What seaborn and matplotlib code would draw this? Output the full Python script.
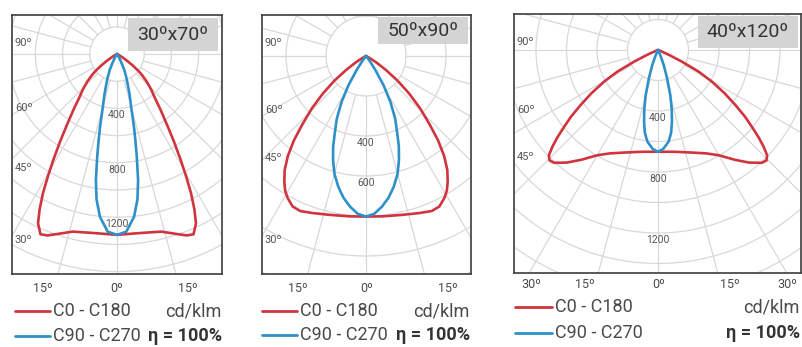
import numpy as np
import pandas as pd
import matplotlib.pyplot as plt
import seaborn as sns
from matplotlib.lines import Line2D
from matplotlib.patches import Circle, Rectangle

sns.set_theme(style="white")
plt.rcParams['font.family'] = ['Roboto', 'DejaVu Sans']

# --- photometric data (cd/klm vs gamma angle) ---
# 30x70
p1_red_ang = [0, 7, 14, 18, 21, 23, 25, 26.5, 28, 29.5, 31, 33, 35, 38, 41, 44, 47, 50, 52, 54, 56, 58, 61, 65, 90]
p1_red_cd = [1330, 1327, 1346, 1390, 1429, 1440, 1374, 1275, 1160, 1030, 910, 770, 650, 520, 420, 360, 300,
             240, 193, 140, 90, 50, 20, 0, 0]
p1_blue_ang = [0, 3, 6, 8, 9.5, 11, 12, 13, 14, 15, 17, 19, 21.5, 24.5, 27, 30, 33, 90]
p1_blue_cd = [1330, 1308, 1203, 1080, 940, 760, 650, 560, 470, 400, 320, 250, 190, 130, 70, 30, 0, 0]
# 50x90
p2_red_ang = [0, 6, 13, 19, 23, 26, 29, 31, 33, 35.5, 38, 40.5, 43, 46, 49, 52, 55, 58, 61, 65, 90]
p2_red_cd = [803, 806, 815, 830, 842, 837, 810, 785, 750, 700, 635, 555, 465, 375, 285, 200, 120, 60, 20, 0, 0]
p2_blue_ang = [0, 3, 6, 9, 12, 15, 17.6, 20, 22, 25, 28, 31, 34, 37, 42, 90]
p2_blue_cd = [803, 790, 758, 718, 668, 610, 545, 480, 417, 345, 260, 170, 80, 25, 0, 0]
# 40x120
p3_red_ang = [0, 10, 18, 25, 30, 35, 39, 42.6, 44.5, 46, 47.5, 49, 50.5, 52.5, 54.6, 57, 59.6, 62, 64, 66,
              68, 72, 90]
p3_red_cd = [667, 678, 707, 748, 797, 879, 950, 1005, 1015, 995, 940, 875, 805, 720, 622, 520, 410, 300, 175,
             80, 25, 0, 0]
p3_blue_ang = [0, 3, 6.6, 9, 11, 13, 15.3, 18, 20.8, 23, 26, 32, 90]
p3_blue_cd = [667, 650, 605, 550, 479, 400, 306, 190, 105, 50, 15, 0, 0]

titles = ['30ºx70º', '50ºx90º', '40ºx120º']
ring_labels = [[400, 800, 1200], [400, 600], [400, 800, 1200]]
left_labels = [['90º', '60º', '45º', '30º'], ['90º', '60º', '45º', '30º'], ['90º', '60º', '45º']]
bottom_labels = [['15º', '0º', '15º'], ['15º', '0º', '15º'], ['30º', '15º', '0º', '15º', '30º']]
series_names = ['C0 - C180', 'C90 - C270']

RED = '#d0343f'
BLUE = '#2e90c9'
GRID = '#d8d8d8'
TXT = '#4a4a4a'
W, H = 803, 347

# layout in pixels: box, polar centre, px per cd, title box, label spots
panels = [
    dict(box=(12, 15, 222, 274), c=(117, 54), s=0.136, tbox=(128, 18, 218, 51),
         left_y=[43, 108, 168, 240], left_x=15, bot_x=[43, 117, 188], bot_y=289,
         leg_x=(15, 50, 53), leg_y=(311, 336), right_x=222,
         red=(p1_red_ang, p1_red_cd), blue=(p1_blue_ang, p1_blue_cd)),
    dict(box=(262, 15, 471, 274), c=(366, 56), s=0.2, tbox=(378, 17, 468, 44),
         left_y=[43, 110, 158, 240], left_x=265, bot_x=[298, 367, 448], bot_y=288,
         leg_x=(262, 297, 300), leg_y=(311, 335), right_x=470,
         red=(p2_red_ang, p2_red_cd), blue=(p2_blue_ang, p2_blue_cd)),
    dict(box=(514, 14, 801, 273), c=(658, 50), s=0.1525, tbox=(698, 16, 798, 48),
         left_y=[42, 110, 157], left_x=517, bot_x=[531, 585, 659, 730, 787], bot_y=285,
         leg_x=(515, 552, 555), leg_y=(307, 333), right_x=800,
         red=(p3_red_ang, p3_red_cd), blue=(p3_blue_ang, p3_blue_cd)),
]


def fx(x):
    return x / W


def fy(y):
    return 1 - y / H


def polar_curve(angles, cd):
    # mirror the half curve so both C-planes halves are drawn, 0 deg pointing down
    th = np.radians(np.asarray(angles, dtype=float))
    r = np.asarray(cd, dtype=float)
    xr = r * np.sin(th)
    yr = -r * np.cos(th)
    x = np.concatenate([-xr[::-1], xr[1:]])
    y = np.concatenate([yr[::-1], yr[1:]])
    return pd.DataFrame({'x': x, 'y': y})


fig = plt.figure(figsize=(8.03, 3.47), dpi=100)

for i, p in enumerate(panels):
    x0, y0, x1, y1 = p['box']
    cx, cy = p['c']
    s = p['s']
    ax = fig.add_axes([fx(x0), fy(y1), (x1 - x0) / W, (y1 - y0) / H])
    ax.set_xlim((x0 - cx) / s, (x1 - cx) / s)
    ax.set_ylim(-(y1 - cy) / s, (cy - y0) / s)
    ax.set_xticks([])
    ax.set_yticks([])
    for sp in ax.spines.values():
        sp.set_color('#3c3c3c')
        sp.set_linewidth(1.2)

    # polar grid: rings every 200 cd, spokes every 15 deg
    rmax = 2200
    for r in range(200, rmax + 1, 200):
        ax.add_patch(Circle((0, 0), r, fill=False, ec=GRID, lw=0.9, zorder=1))
    for a in np.radians(np.arange(0, 360, 15)):
        ax.plot([200 * np.sin(a), rmax * np.sin(a)], [-200 * np.cos(a), -rmax * np.cos(a)],
                color=GRID, lw=0.9, zorder=1)

    for (ang, cd), col in [(p['red'], RED), (p['blue'], BLUE)]:
        df = polar_curve(ang, cd)
        sns.lineplot(data=df, x='x', y='y', sort=False, estimator=None,
                     color=col, lw=1.9, ax=ax, zorder=3)
    ax.set_xlabel('')
    ax.set_ylabel('')

    for v in ring_labels[i]:
        ax.annotate(str(v), (0, -v), xytext=(0, -5), textcoords='offset points',
                    ha='center', va='center', fontsize=7.5, color='#555555', zorder=4)

    # title box
    tx0, ty0, tx1, ty1 = p['tbox']
    fig.add_artist(Rectangle((fx(tx0), fy(ty1)), (tx1 - tx0) / W, (ty1 - ty0) / H,
                             transform=fig.transFigure, fc='#d4d4d4', ec='none', zorder=5))
    fig.text(fx((tx0 + tx1) / 2), fy((ty0 + ty1) / 2), titles[i], ha='center', va='center',
             fontsize=14, color='#333333', zorder=6)

    for lab, yy in zip(left_labels[i], p['left_y']):
        fig.text(fx(p['left_x']), fy(yy), lab, ha='left', va='center', fontsize=8, color='#555555')
    for lab, xx in zip(bottom_labels[i], p['bot_x']):
        fig.text(fx(xx), fy(p['bot_y']), lab, ha='center', va='center', fontsize=9, color=TXT)

    # legend rows
    lx0, lx1, tx = p['leg_x']
    for name, col, yy in zip(series_names, [RED, BLUE], p['leg_y']):
        fig.add_artist(Line2D([fx(lx0), fx(lx1)], [fy(yy), fy(yy)], transform=fig.transFigure,
                              color=col, lw=2))
        fig.text(fx(tx), fy(yy), name, ha='left', va='center', fontsize=13, color=TXT)
    fig.text(fx(p['right_x']), fy(p['leg_y'][0]), 'cd/klm', ha='right', va='center',
             fontsize=13, color=TXT)
    fig.text(fx(p['right_x']), fy(p['leg_y'][1]), 'η = 100%', ha='right', va='center',
             fontsize=13, color='#333333', fontweight='bold')

fig.savefig('out.png', dpi=100)
